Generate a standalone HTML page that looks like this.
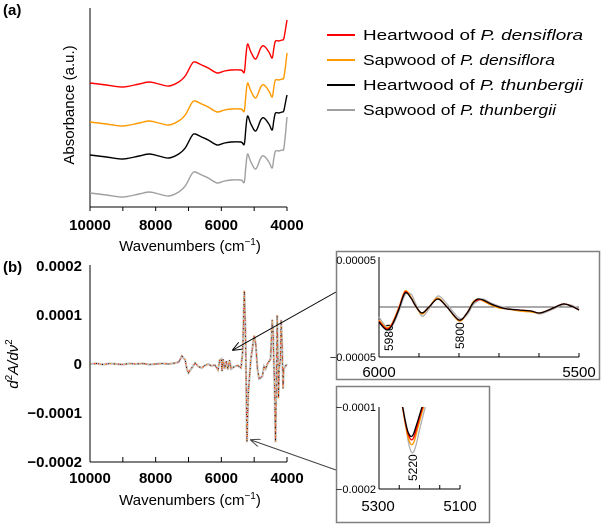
<!DOCTYPE html>
<html><head><meta charset="utf-8"><style>
body{margin:0;background:#fff}
svg{display:block;font-family:"Liberation Sans",Arial,sans-serif}
</style></head><body>
<svg id="fig" width="602" height="525" viewBox="0 0 602 525">
<text x="3" y="15" font-size="15" font-weight="bold">(a)</text>
<text x="3" y="272" font-size="15" font-weight="bold">(b)</text>
<g id="pa"></g>
<g id="pb"></g>
<g id="legend"></g>
<g id="in1"></g>
<g id="in2"></g>
</svg>
<script>
// ---- Panel (a) data ----
const wnA=[10000,9500,9000,8500,8200,7900,7600,7300,7100,6900,6800,6600,6400,6200,6100,5900,5700,5400,5300,5250,5200,5100,4950,4800,4700,4550,4450,4400,4350,4250,4150,4100,4050,4000];
const absRed=[124,122,120,123,125,123,121,125,131,143,145,142,139,135,134,136,137,137,135,152,163,155,148,159,161,155,149,159,166,166,167,168,177,187];
const absOrange=[85,83,81,84,86,84,82,86,92,104,106,103,100,96,95,97,98,98,96,113,124,116,109,120,122,116,110,120,127,127,128,129,140,154];
const absBlack=[52,50,48,51,53,51,49,53,59,71,73,70,67,63,62,64,65,65,63,80,91,83,76,87,89,83,77,87,94,94,95,96,104,112];
const absGray=[14,12,10,13,15,13,11,15,21,33,35,32,29,25,24,26,27,27,25,42,53,45,38,49,51,45,39,49,56,56,57,58,72,90];
const xTicksMain=[10000,8000,6000,4000];
const xMinorMain=[10000,9000,8000,7000,6000,5000,4000];
// ---- Panel (b) data (x1e-6) ----
const wnB=[10000,9800,9600,9400,9200,9000,8800,8600,8400,8200,8000,7800,7600,7400,7300,7200,7100,7050,7000,6900,6800,6700,6600,6500,6400,6300,6200,6100,6050,6000,5980,5950,5900,5850,5800,5750,5700,5600,5500,5400,5350,5300,5260,5220,5180,5100,5000,4950,4900,4850,4800,4750,4700,4650,4600,4500,4450,4420,4400,4380,4350,4320,4300,4280,4260,4240,4200,4180,4150,4120,4100,4050,4000];
const d2=[0,1,-1,1,0,-1,1,0,1,-1,0,1,0,2,4,16,8,-10,-18,-8,2,-5,-8,-3,0,-4,-2,-12,8,10,-15,10,-10,6,-12,8,-10,-5,-3,-8,25,150,50,-160,-60,10,58,40,-10,-30,-28,-25,-5,-10,0,10,90,60,0,-40,-160,-20,100,20,-70,-10,10,90,40,-50,-10,-5,0];
const yTicksB=[0.0002,0.0001,0,-0.0001,-0.0002];
const yTickLabelsB=["0.0002","0.0001","0","\u22120.0001","\u22120.0002"];
// ---- Inset 1 data (x1e-6) ----
const wnI1=[6000,5990,5980,5970,5960,5950,5935,5920,5910,5893,5875,5853,5830,5800,5780,5765,5753,5740,5720,5700,5680,5650,5620,5598,5570,5540,5520,5500];
const i1Black=[-15,-20,-23,-20,-12,-2,14,9,2,-6,0,8,0,-13,-6,4,8,7,3,0,-2,-3,-4,-6,-2,3,1,-3];
const i1Red=[-14,-19,-22,-19,-11,-1,15,9,2,-6,0,8,0,-13,-6,4,7,7,3,0,-2,-3,-4,-6,-2,3,1,-3];
const i1Orange=[-13,-18,-21,-18,-10,0,16,10,2,-7,0,9,0,-14,-6,5,8,6,2,-1,-2,-4,-5,-6,-2,3,1,-3];
const i1Gray=[-10,-16,-20,-20,-14,-4,12,13,5,-9,-2,11,3,-11,-8,2,6,8,4,1,-1,-3,-4,-7,-3,2,2,-2];
// ---- Inset 2 data (x1e-6) ----
const wnI2=[5250,5245,5240,5235,5230,5225,5220,5215,5210,5205,5200,5195,5190,5185,5180,5175];
const i2Black=[-75,-90,-104,-117,-128,-134,-136,-133,-126,-118,-110,-102,-94,-86,-80,-72];
const i2Red=[-76,-91,-105,-119,-130,-137,-140,-138,-131,-122,-113,-105,-97,-89,-81,-74];
const i2Orange=[-78,-92,-107,-121,-134,-142,-146,-144,-137,-127,-118,-109,-100,-92,-84,-76];
const i2Gray=[-80,-90,-104,-120,-136,-148,-155,-155,-149,-139,-128,-118,-108,-99,-90,-82];

const NS="http://www.w3.org/2000/svg";
function mk(parent,tag,attrs,text){const e=document.createElementNS(NS,tag);for(const k in attrs)e.setAttribute(k,attrs[k]);if(text!=null)e.textContent=text;parent.appendChild(e);return e;}
function smooth(pts){let d="M"+pts[0][0].toFixed(1)+","+pts[0][1].toFixed(1);for(let i=0;i<pts.length-1;i++){const p0=pts[Math.max(0,i-1)],p1=pts[i],p2=pts[i+1],p3=pts[Math.min(pts.length-1,i+2)];const c1=[p1[0]+(p2[0]-p0[0])/6,p1[1]+(p2[1]-p0[1])/6],c2=[p2[0]-(p3[0]-p1[0])/6,p2[1]-(p3[1]-p1[1])/6];d+=" C"+c1[0].toFixed(1)+","+c1[1].toFixed(1)+" "+c2[0].toFixed(1)+","+c2[1].toFixed(1)+" "+p2[0].toFixed(1)+","+p2[1].toFixed(1);}return d;}

// Panel a
const pa=document.getElementById('pa');
const xA=w=>90+(10000-w)/6000*197;
const yA=v=>207-v;
let e=mk(pa,'line',{x1:90,y1:8,x2:90,y2:207,stroke:'#000','stroke-width':1});

e=mk(pa,'line',{x1:90,y1:207,x2:287,y2:207,stroke:'#000','stroke-width':1});

xMinorMain.forEach(w=>{const t=mk(pa,'line',{x1:xA(w),y1:207,x2:xA(w),y2:211,stroke:'#000'});});
xTicksMain.forEach(w=>{const t=mk(pa,'text',{x:xA(w),y:230,'font-size':15,'text-anchor':'middle','font-weight':'bold'},String(w));});
e=mk(pa,'text',{x:190,y:251,'font-size':15,'text-anchor':'middle'});e.innerHTML='Wavenumbers (cm<tspan dy="-6" font-size="10">\u22121</tspan><tspan dy="6">)</tspan>';

e=mk(pa,'text',{x:0,y:0,'font-size':15,'text-anchor':'middle',transform:'translate(74,105) rotate(-90)'},'Absorbance  (a.u.)');

[[absGray,'#a0a0a0','gray'],[absBlack,'#000','black'],[absOrange,'#ff9900','orange'],[absRed,'#ff0000','red']].forEach(([arr,c,n])=>{const p=mk(pa,'path',{d:smooth(wnA.map((w,i)=>[xA(w),yA(arr[i])])),fill:'none',stroke:c,'stroke-width':1.4});});

// Legend
const lg=document.getElementById('legend');
const legItems=[['#ff0000','Heartwood of ','P. densiflora',220],['#ff9900','Sapwood of ','P. densiflora',192],['#000','Heartwood of ','P. thunbergii',220],['#a0a0a0','Sapwood of ','P. thunbergii',193]];
legItems.forEach((it,i)=>{const y=35+i*25;const g=mk(lg,'g',{});
mk(g,'line',{x1:327,y1:y,x2:355,y2:y,stroke:it[0],'stroke-width':2});
const t=mk(g,'text',{x:363,y:y+5,'font-size':15,textLength:it[3],lengthAdjust:'spacingAndGlyphs'});t.innerHTML=it[1]+'<tspan font-style="italic">'+it[2]+'</tspan>';});

// Panel b
const pb=document.getElementById('pb');
const xB=xA;const yB=v=>364-v/0.0001*49;
e=mk(pb,'line',{x1:90,y1:265,x2:90,y2:462,stroke:'#000'});
e=mk(pb,'line',{x1:90,y1:462,x2:287,y2:462,stroke:'#000'});
xMinorMain.forEach(w=>{const t=mk(pb,'line',{x1:xB(w),y1:462,x2:xB(w),y2:457,stroke:'#000'});});
xTicksMain.forEach(w=>{const t=mk(pb,'text',{x:xB(w),y:483,'font-size':15,'text-anchor':'middle','font-weight':'bold'},String(w));});
yTicksB.forEach((v,i)=>{const t=mk(pb,'text',{x:82,y:yB(v)+5,'font-size':15,'text-anchor':'end','font-weight':'bold'},yTickLabelsB[i]);});
e=mk(pb,'text',{x:190,y:505,'font-size':15,'text-anchor':'middle'});e.innerHTML='Wavenumbers (cm<tspan dy="-6" font-size="10">\u22121</tspan><tspan dy="6">)</tspan>';

e=mk(pb,'text',{x:0,y:0,'font-size':15,'text-anchor':'middle','font-style':'italic',transform:'translate(18,364) rotate(-90)'});
e.innerHTML='d<tspan dy="-6" font-size="10" font-style="normal">2</tspan><tspan dy="6">A/d\u03bd</tspan><tspan dy="-6" font-size="10" font-style="normal">2</tspan>';

const dB=wnB.map((w,i)=>[xB(w),yB(d2[i]*1e-6)]);
[['#c0c0c0',2.2,''],['#ff0000',1,'1,3'],['#ff9900',1,'1,4'],['#000',0.8,'1,5']].forEach(([c,sw,da],k)=>{const p=mk(pb,'polyline',{points:dB.map(p=>p.join(',')).join(' '),fill:'none',stroke:c,'stroke-width':sw,'stroke-dasharray':da});});
// arrows
mk(pb,'defs',{}).innerHTML='<marker id="ah" markerWidth="10" markerHeight="8" refX="9" refY="4" orient="auto" markerUnits="userSpaceOnUse"><path d="M0,0 L10,4 L0,8" fill="none" stroke="#000" stroke-width="1"/></marker><marker id="ah2" markerWidth="10" markerHeight="8" refX="9" refY="4" orient="auto" markerUnits="userSpaceOnUse"><path d="M0,0 L10,4 L0,8" fill="none" stroke="#444" stroke-width="1"/></marker>';
e=mk(pb,'line',{x1:336,y1:292,x2:233,y2:350,stroke:'#000','marker-end':'url(#ah)'});
e=mk(pb,'line',{x1:336,y1:470,x2:251,y2:440,stroke:'#444','marker-end':'url(#ah2)'});

// Inset 1
const in1=document.getElementById('in1');
e=mk(in1,'rect',{x:336.5,y:251.5,width:263,height:128,fill:'#fff',stroke:'#808080','stroke-width':1.5});
const x1=w=>379+(6000-w)/500*200;const y1=v=>307-v/0.00005*50;
mk(in1,'line',{x1:379,y1:257,x2:379,y2:357,stroke:'#000'});
mk(in1,'line',{x1:379,y1:357,x2:579,y2:357,stroke:'#000'});
mk(in1,'line',{x1:379,y1:307,x2:579,y2:307,stroke:'#555'});
[6000,5900,5800,5700,5600,5500].forEach(w=>mk(in1,'line',{x1:x1(w),y1:357,x2:x1(w),y2:353,stroke:'#000'}));
mk(in1,'text',{x:376,y:264,'font-size':11,'text-anchor':'end'},'0.00005');
mk(in1,'text',{x:376,y:361,'font-size':11,'text-anchor':'end'},'\u22120.00005');
mk(in1,'text',{x:379,y:377,'font-size':15,'text-anchor':'middle'},'6000');
mk(in1,'text',{x:579,y:377,'font-size':15,'text-anchor':'middle'},'5500');
mk(in1,'text',{x:0,y:0,'font-size':12,transform:'translate(393,351) rotate(-90)'},'5980');
mk(in1,'text',{x:0,y:0,'font-size':12,transform:'translate(464,349) rotate(-90)'},'5800');
[[i1Gray,'#b0b0b0'],[i1Orange,'#ff9900'],[i1Red,'#ff0000'],[i1Black,'#000']].forEach(([a,c])=>{const p=mk(in1,'path',{d:smooth(wnI1.map((w,i)=>[x1(w),y1(a[i]*1e-6)])),fill:'none',stroke:c,'stroke-width':1.3});});

// Inset 2
const in2=document.getElementById('in2');
e=mk(in2,'rect',{x:336.5,y:386.5,width:153,height:136,fill:'#fff',stroke:'#808080','stroke-width':1.5});
const x2=w=>379+(5300-w)/200*81;const y2=v=>407+(-0.0001-v)/0.0001*82;
mk(in2,'defs',{}).innerHTML='<clipPath id="c2"><rect x="379" y="407" width="81" height="82"/></clipPath>';
mk(in2,'line',{x1:379,y1:407,x2:379,y2:489,stroke:'#000'});
mk(in2,'line',{x1:379,y1:489,x2:460,y2:489,stroke:'#000'});
[5300,5250,5200,5150,5100].forEach(w=>mk(in2,'line',{x1:x2(w),y1:489,x2:x2(w),y2:485,stroke:'#000'}));
mk(in2,'text',{x:376,y:411,'font-size':11,'text-anchor':'end'},'\u22120.0001');
mk(in2,'text',{x:376,y:493,'font-size':11,'text-anchor':'end'},'\u22120.0002');
mk(in2,'text',{x:378,y:511,'font-size':15,'text-anchor':'middle'},'5300');
mk(in2,'text',{x:460,y:511,'font-size':15,'text-anchor':'middle'},'5100');
mk(in2,'text',{x:0,y:0,'font-size':12,transform:'translate(417,481) rotate(-90)'},'5220');
const cg=mk(in2,'g',{'clip-path':'url(#c2)'});
[[i2Gray,'#b0b0b0'],[i2Orange,'#ff9900'],[i2Red,'#ff0000'],[i2Black,'#000']].forEach(([a,c])=>{const p=mk(cg,'path',{d:smooth(wnI2.map((w,i)=>[x2(w),y2(a[i]*1e-6)])),fill:'none',stroke:c,'stroke-width':1.3});});
</script>
</body></html>
